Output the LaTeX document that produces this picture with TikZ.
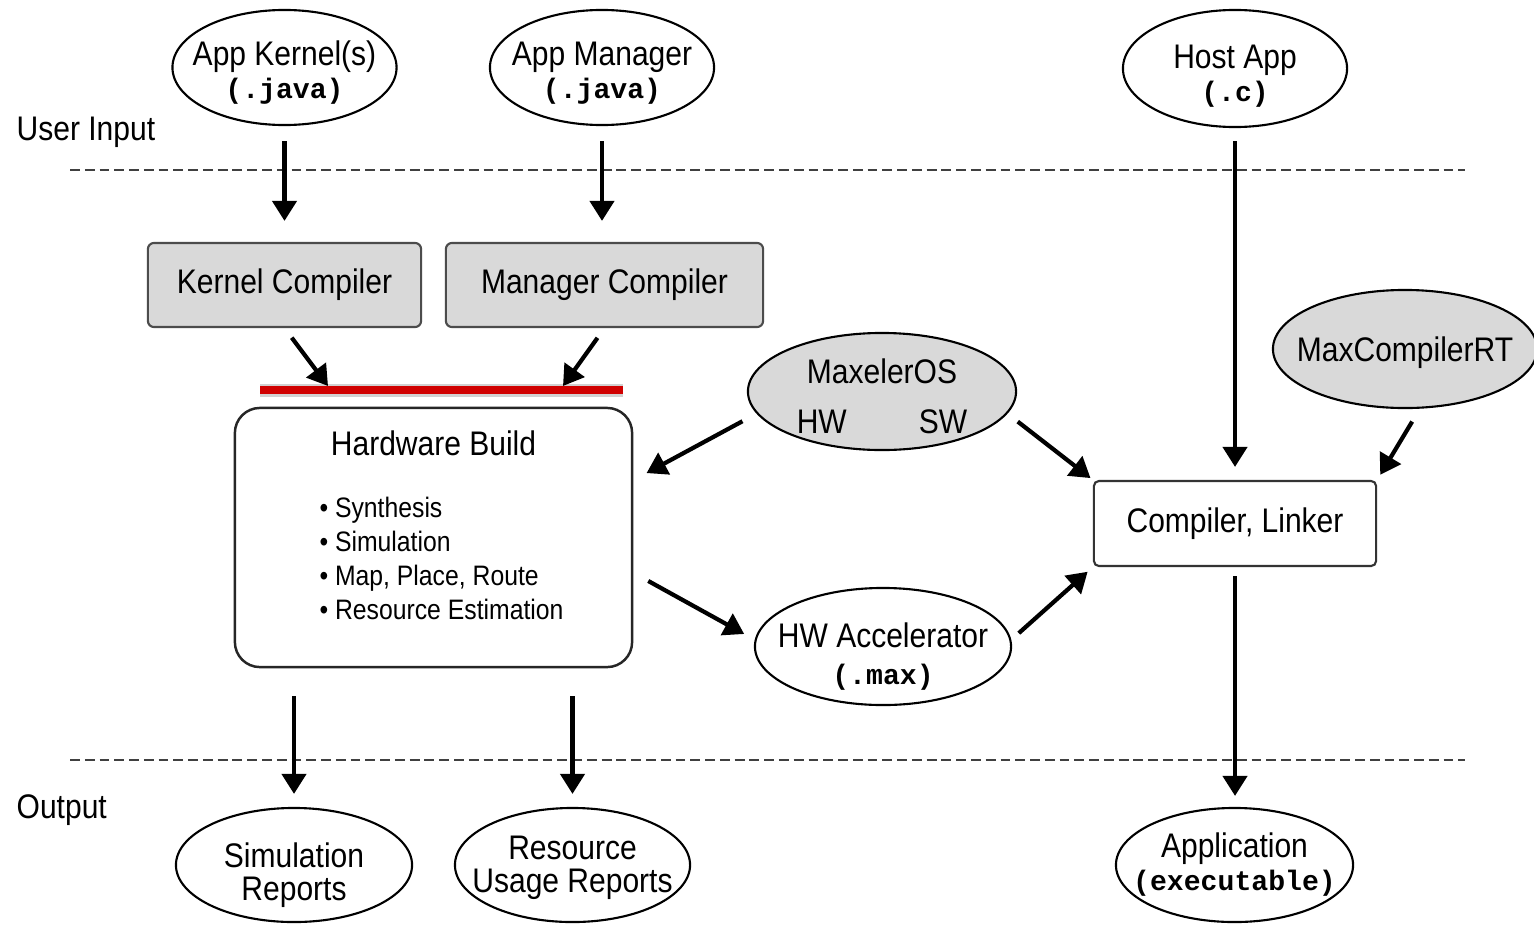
\documentclass[tikz,border=0pt]{standalone}
\usepackage{fontspec}
\setmainfont{Liberation Sans}[FakeStretch=0.88]
\setmonofont{Liberation Mono}
\usetikzlibrary{arrows.meta,shapes.geometric}
\definecolor{flowRed}{HTML}{D00000}
\definecolor{boxGray}{HTML}{D9D9D9}
\newcommand{\ext}[1]{{\ttfamily\bfseries\fontsize{8}{9}\selectfont #1}}

\begin{document}
\begin{tikzpicture}[x=0.01cm,y=-0.01cm,
  font=\fontsize{9.7}{9.4}\selectfont,
  srcfile/.style={ellipse, draw, line width=0.6pt, fill=white, inner xsep=-0.3cm,
    inner ysep=-0.15cm, align=center, minimum width=2.24cm, minimum height=1.15cm},
  platform/.style={srcfile, fill=boxGray},
  toolbox/.style={draw=black!70, line width=0.6pt, fill=boxGray,
    rounded corners=0.06cm, minimum height=0.84cm},
  linkbox/.style={draw=black!80, line width=0.6pt, fill=white,
    rounded corners=0.05cm, minimum height=0.85cm, minimum width=2.82cm},
  buildbox/.style={draw=black!85, line width=0.7pt, rounded corners=0.25cm,
    minimum width=3.97cm, minimum height=2.59cm, align=center},
  flow/.style={-{Triangle[length=0.2cm,width=0.24cm]}, line width=1.2pt},
  sepline/.style={draw=black!75, line width=0.5pt, dash pattern=on 2.8pt off 1.4pt},
  zone/.style={anchor=base west, inner sep=0pt}]
  \path[use as bounding box] (0,0) rectangle (1534,924);
  \clip (0,0) rectangle (1534,924);
  \fill[white] (0,0) rectangle (1534,924);

  % input / output bands
  \draw[sepline] (70,170) -- (1465,170);
  \draw[sepline] (70,760) -- (1465,760);
  \node[zone] (uin) at (16,140) {User Input};
  \node[zone] (uout) at (16,818) {Output};

  % sources
  \node[srcfile, text height=19.3pt] (ak) at (284.5,67.5) {App Kernel(s)\\\ext{(.java)}};
  \node[srcfile, text height=19.3pt] (am) at (602,67.5) {App Manager\\\ext{(.java)}};
  \node[srcfile, text height=20.4pt, minimum height=1.17cm] (ha) at (1235,68.5)
    {Host App\\\ext{(.c)}};

  % compilers
  \node[toolbox, minimum width=2.73cm] (kc) at (284.5,285) {Kernel Compiler};
  \node[toolbox, minimum width=3.17cm] (mc) at (604.5,285) {Manager Compiler};
  \node[linkbox] (cl) at (1235,523.5) {Compiler, Linker};

  % platform parts
  \node[platform, text height=24.1pt, minimum width=2.68cm, minimum height=1.17cm]
    (mos) at (882,391.5) {MaxelerOS\\[4.8pt]HW\hspace{0.72cm}SW};
  \node[platform, text height=9.3pt, minimum width=2.64cm, minimum height=1.18cm]
    (mcrt) at (1405,349) {MaxCompilerRT};

  % hardware build
  \node[buildbox] (hwb) at (433.5,537.5) {Hardware Build\\[8pt]
    \hspace*{0.16cm}{\fontsize{8}{9.7}\selectfont\begin{tabular}[t]{@{}l@{}}
      \textbullet\ Synthesis\\
      \textbullet\ Simulation\\
      \textbullet\ Map, Place, Route\\
      \textbullet\ Resource Estimation
    \end{tabular}}\\[3pt]};
  \coordinate (rl1) at (260,390);
  \coordinate (rl2) at (623,390);
  \coordinate (rk) at (328,386);
  \coordinate (rm) at (563,386);
  \draw[black!18, line width=0.13cm] (rl1) -- (rl2);
  \draw[flowRed, line width=0.08cm] (rl1) -- (rl2);

  \node[srcfile, text height=23.2pt, minimum width=2.56cm, minimum height=1.17cm]
    (hwa) at (883,646.5) {HW Accelerator\\[1pt]\ext{(.max)}};

  % outputs
  \node[srcfile, text height=22.1pt, minimum width=2.36cm, minimum height=1.14cm]
    (sim) at (294,865) {Simulation\\Reports};
  \node[srcfile, text height=17.6pt, minimum width=2.35cm, minimum height=1.14cm]
    (rur) at (572.5,865) {Resource\\Usage Reports};
  \node[srcfile, minimum width=2.37cm, minimum height=1.14cm] (app) at (1234.5,865)
    {Application\\\ext{(executable)}};

  % flow
  \draw[flow, shorten <=0.15cm, shorten >=0.21cm] (ak.south) -- (kc.north);
  \draw[flow, shorten <=0.15cm, shorten >=0.21cm] (am.south) -- (am.south |- mc.north);
  \draw[flow, shorten <=0.12cm] (kc.south) -- (rk);
  \draw[flow, shorten <=0.12cm] (mc.south) -- (rm);
  \draw[flow, shorten <=0.16cm, shorten >=0.15cm] (mos.190) -- (hwb.16);
  \draw[flow, shorten <=0.13cm, shorten >=0.03cm] (mos.350.5) -- (cl.north west);
  \draw[flow, shorten <=0.17cm, shorten >=0.12cm] (hwb.350) -- (hwa.177.5);
  \draw[flow, shorten <=0.10cm, shorten >=0.07cm] (hwa.3) -- (cl.south west);
  \draw[flow, shorten <=0.13cm, shorten >=0.13cm] (ha.south) -- (ha.south |- cl.north);
  \draw[flow, shorten <=0.15cm, shorten >=0.06cm] (mcrt.284) -- (cl.north east);
  \draw[flow, shorten <=0.09cm, shorten >=0.11cm] (cl.south) -- (cl.south |- app.north);
  \draw[flow, shorten <=0.28cm, shorten >=0.13cm] (sim.north |- hwb.south) -- (sim.north);
  \draw[flow, shorten <=0.28cm, shorten >=0.13cm] (rur.north |- hwb.south) -- (rur.north);
\end{tikzpicture}
\end{document}
